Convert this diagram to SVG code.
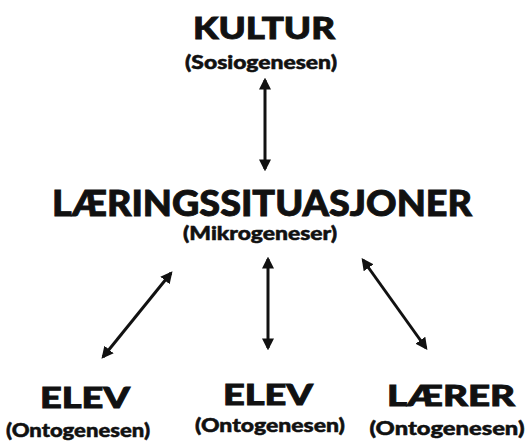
<svg xmlns="http://www.w3.org/2000/svg" width="528" height="446" viewBox="0 0 528 446">
<style>
.t{font-family:"Lato","Liberation Sans",sans-serif;font-weight:900;fill:#111;stroke:#111;stroke-width:0.9;text-anchor:middle}
.s{font-family:"Lato","Liberation Sans",sans-serif;font-weight:900;fill:#111;stroke:#111;stroke-width:0.5;text-anchor:middle}
.c{stroke:#111;stroke-width:3;fill:none;marker-start:url(#a);marker-end:url(#a)}
</style>
<defs>
<marker id="a" viewBox="0 0 10 10" refX="8" refY="5" markerWidth="4" markerHeight="4" orient="auto-start-reverse" markerUnits="strokeWidth">
<path d="M0,0 L10,5 L0,10 Z" fill="#111"/>
</marker>
</defs>
<rect width="528" height="446" fill="#fff"/>
<g id="kultur">
<text class="t" x="264" y="39" font-size="31" textLength="142" lengthAdjust="spacingAndGlyphs">KULTUR</text>
<text class="s" x="261" y="69" font-size="18" textLength="152" lengthAdjust="spacingAndGlyphs">(Sosiogenesen)</text>
</g>
<g id="laering">
<text class="t" x="262" y="216" font-size="36" textLength="420" lengthAdjust="spacingAndGlyphs">LÆRINGSSITUASJONER</text>
<text class="s" x="260" y="240" font-size="18" textLength="154" lengthAdjust="spacingAndGlyphs">(Mikrogeneser)</text>
</g>
<g id="elev1">
<text class="t" x="85" y="408" font-size="29" textLength="90" lengthAdjust="spacingAndGlyphs">ELEV</text>
<text class="s" x="78" y="437" font-size="19" textLength="144" lengthAdjust="spacingAndGlyphs">(Ontogenesen)</text>
</g>
<g id="elev2">
<text class="t" x="268" y="405" font-size="29" textLength="90" lengthAdjust="spacingAndGlyphs">ELEV</text>
<text class="s" x="270" y="432" font-size="19" textLength="150" lengthAdjust="spacingAndGlyphs">(Ontogenesen)</text>
</g>
<g id="laerer">
<text class="t" x="451" y="406" font-size="29" textLength="128" lengthAdjust="spacingAndGlyphs">LÆRER</text>
<text class="s" x="447" y="435" font-size="19" textLength="155" lengthAdjust="spacingAndGlyphs">(Ontogenesen)</text>
</g>
<g id="connectors">
<line class="c" x1="265" y1="80" x2="265" y2="169"/>
<line class="c" x1="171" y1="273" x2="103" y2="357"/>
<line class="c" x1="268" y1="259" x2="268" y2="348"/>
<line class="c" x1="363" y1="260" x2="426" y2="348"/>
</g>
</svg>
